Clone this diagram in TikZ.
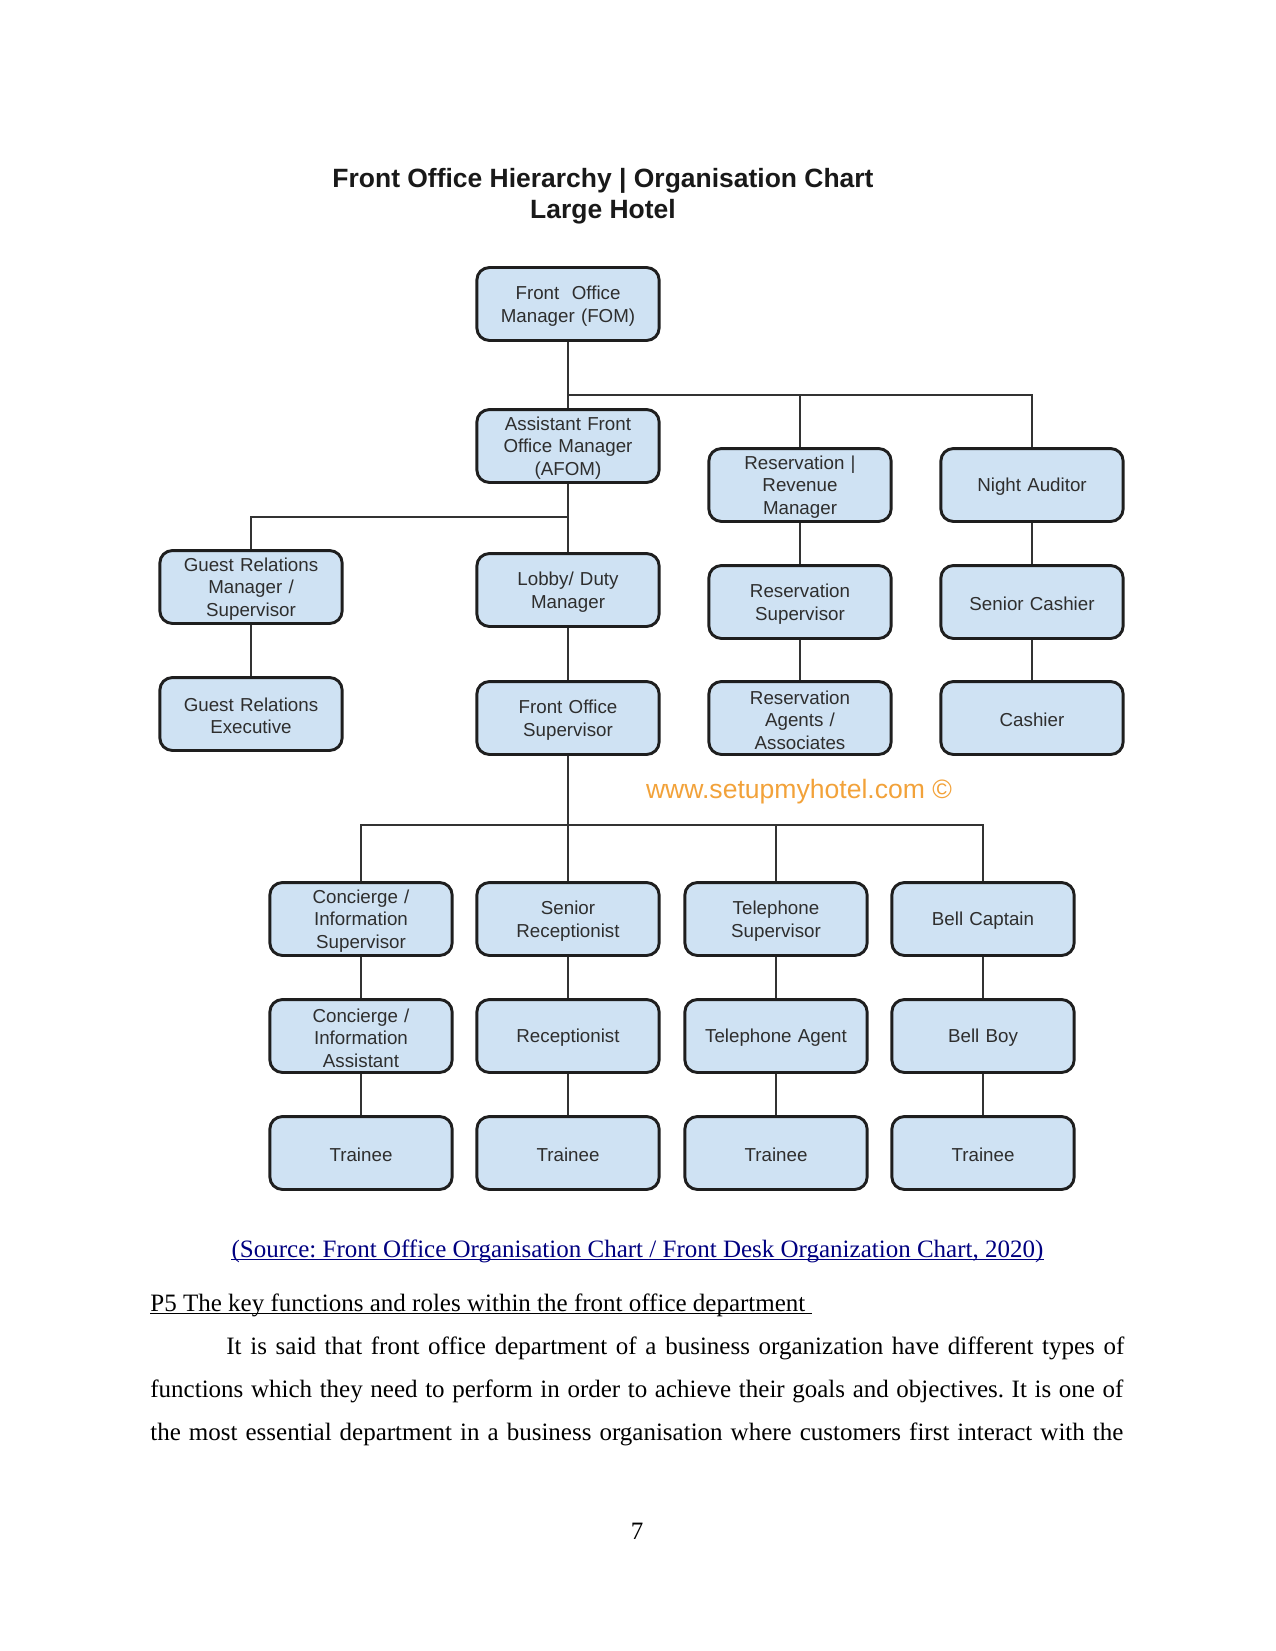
\documentclass[tikz,border=0pt]{standalone}
\usepackage{fontspec}
\setmainfont{Liberation Serif}
\newfontfamily\chartfont{Liberation Sans}
\definecolor{boxfill}{HTML}{CFE2F3}
\definecolor{boxline}{HTML}{1E1E1E}
\definecolor{boxtext}{HTML}{2E2E2E}
\definecolor{wmark}{HTML}{F2A23A}
\definecolor{srcblue}{HTML}{000080}
\frenchspacing
\begin{document}
\begin{tikzpicture}[x=0.48pt,y=-0.48pt,
  orgbox/.style={draw=boxline, line width=1.4pt, fill=boxfill, rounded corners=6pt,
    minimum width=87.5pt, minimum height=35pt, inner sep=1pt, text width=84pt, align=center,
    text=boxtext, font=\chartfont\fontsize{9}{10.8}\selectfont,
    execute at begin node={\rule{0pt}{8.4pt}}},
  conn/.style={draw=black!80, line width=0.6pt},
  uline/.style={line width=0.5pt},
  bodyline/.style={anchor=base west, inner sep=0pt, font=\fontsize{12}{14}\selectfont}]
\useasboundingbox (0,0) rectangle (1275,1651);
% title
\node[align=center, text=black!90, font=\chartfont\bfseries\fontsize{12.7}{15.1}\selectfont] (title) at (603,196)
  {Front Office Hierarchy | Organisation Chart\\Large Hotel};
% top
\node[orgbox] (fom) at (568,304) {Front \ Office\\Manager (FOM)};
\node[orgbox] (afom) at (568,446) {Assistant Front\\Office Manager\\(AFOM)};
\node[orgbox] (rrm) at (800,485) {Reservation |\\Revenue\\Manager};
\node[orgbox] (na) at (1032,485) {Night Auditor};
\node[orgbox] (grm) at (251,587) {Guest Relations\\Manager /\\Supervisor};
\node[orgbox] (ldm) at (568,590) {Lobby/ Duty\\Manager};
\node[orgbox] (rs) at (800,602) {Reservation\\Supervisor};
\node[orgbox] (sc) at (1032,602) {Senior Cashier};
\node[orgbox] (gre) at (251,714) {Guest Relations\\Executive};
\node[orgbox] (fos) at (568,718) {Front Office\\Supervisor};
\node[orgbox] (ra) at (800,718) {Reservation\\Agents /\\Associates};
\node[orgbox] (cash) at (1032,718) {Cashier};
% watermark
\node[text=wmark, font=\chartfont\fontsize{12.75}{14}\selectfont] (wm) at (799,792) {www.setupmyhotel.com \char"00A9};
% bottom rows
\node[orgbox] (cis) at (361,919) {Concierge /\\Information\\Supervisor};
\node[orgbox] (sr) at (568,919) {Senior\\Receptionist};
\node[orgbox] (ts) at (776,919) {Telephone\\Supervisor};
\node[orgbox] (bc) at (983,919) {Bell Captain};
\node[orgbox] (cia) at (361,1036) {Concierge /\\Information\\Assistant};
\node[orgbox] (rec) at (568,1036) {Receptionist};
\node[orgbox] (ta) at (776,1036) {Telephone Agent};
\node[orgbox] (bb) at (983,1036) {Bell Boy};
\node[orgbox] (t1) at (361,1153) {Trainee};
\node[orgbox] (t2) at (568,1153) {Trainee};
\node[orgbox] (t3) at (776,1153) {Trainee};
\node[orgbox] (t4) at (983,1153) {Trainee};
% junctions
\coordinate (j1) at (568,395);
\coordinate (j2) at (568,517);
\coordinate (j3) at (568,825);
% connectors
\draw[conn] (fom.south) -- (afom.north);
\draw[conn] (j1) -| (rrm.north);
\draw[conn] (j1) -| (na.north);
\draw[conn] (afom.south) -- (ldm.north);
\draw[conn] (j2) -| (grm.north);
\draw[conn] (grm.south) -- (gre.north);
\draw[conn] (ldm.south) -- (fos.north);
\draw[conn] (rrm.south) -- (rs.north);
\draw[conn] (rs.south) -- (ra.north);
\draw[conn] (na.south) -- (sc.north);
\draw[conn] (sc.south) -- (cash.north);
\draw[conn] (fos.south) -- (sr.north);
\draw[conn] (j3) -| (cis.north);
\draw[conn] (j3) -| (ts.north);
\draw[conn] (j3) -| (bc.north);
\draw[conn] (cis.south) -- (cia.north);
\draw[conn] (cia.south) -- (t1.north);
\draw[conn] (sr.south) -- (rec.north);
\draw[conn] (rec.south) -- (t2.north);
\draw[conn] (ts.south) -- (ta.north);
\draw[conn] (ta.south) -- (t3.north);
\draw[conn] (bc.south) -- (bb.north);
\draw[conn] (bb.south) -- (t4.north);
% text below
\node[anchor=base, inner sep=0pt, text=srcblue, font=\fontsize{12}{14}\selectfont] (src) at (637.5,1257)
  {(Source: Front Office Organisation Chart / Front Desk Organization Chart, 2020)};
\draw[uline, srcblue] ([yshift=-1.2pt]src.base west) -- ([yshift=-1.2pt]src.base east);
\node[bodyline] (head) at (150,1311) {P5 The key functions and roles within the front office department\kern3pt};
\draw[uline] ([yshift=-1.2pt]head.base west) -- ([yshift=-1.2pt]head.base east);
\node[bodyline] (l1) at (226,1354) {\hbox to 431pt{It is said that front office department of a business organization have different types of}};
\node[bodyline] (l2) at (150,1397) {\hbox to 467pt{functions which they need to perform in order to achieve their goals and objectives. It is one of}};
\node[bodyline] (l3) at (150,1440) {\hbox to 467pt{the most essential department in a business organisation where customers first interact with the}};
\node[anchor=base, inner sep=0pt, font=\fontsize{12}{14}\selectfont] (pg) at (637,1539) {7};
\end{tikzpicture}
\end{document}
